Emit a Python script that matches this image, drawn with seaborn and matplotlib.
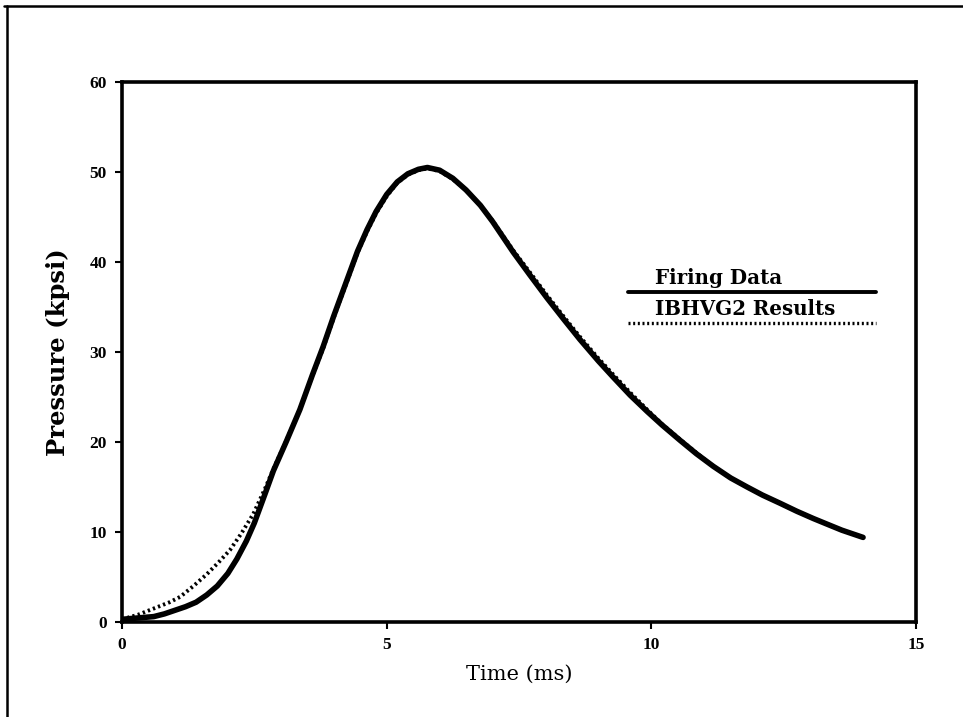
import numpy as np
import pandas as pd
import matplotlib
matplotlib.use("Agg")
import matplotlib.pyplot as plt
import seaborn as sns
from matplotlib.lines import Line2D

# ---- data ----
firing_t = [0.0, 0.2, 0.4, 0.6, 0.8, 1.0, 1.2, 1.4, 1.6, 1.8, 2.0, 2.17, 2.35,
            2.5, 2.7, 2.86, 3.1, 3.36, 3.6, 3.8, 4.0, 4.25, 4.45, 4.63, 4.8,
            5.0, 5.2, 5.4, 5.6, 5.77, 6.0, 6.25, 6.5, 6.77, 7.0, 7.39, 7.7,
            8.03, 8.35, 8.65, 9.0, 9.28, 9.6, 9.92, 10.2, 10.54, 10.85, 11.17,
            11.5, 11.81, 12.1, 12.43, 12.75, 13.06, 13.35, 13.6, 13.8, 14.0]
firing_p = [0.3, 0.4, 0.5, 0.6, 0.9, 1.3, 1.7, 2.2, 3.0, 4.0, 5.4, 7.0, 9.0,
            11.0, 14.2, 16.8, 20.0, 23.6, 27.5, 30.6, 34.0, 38.0, 41.2, 43.6,
            45.6, 47.5, 48.9, 49.8, 50.3, 50.5, 50.2, 49.3, 48.0, 46.3, 44.5,
            41.1, 38.6, 36.0, 33.6, 31.4, 29.0, 27.2, 25.2, 23.4, 21.9, 20.2,
            18.7, 17.3, 16.0, 15.0, 14.1, 13.2, 12.3, 11.5, 10.8, 10.2, 9.8, 9.4]

ibhvg_t = [0.0, 0.3, 0.6, 0.9, 1.1, 1.35, 1.6, 1.82, 2.04, 2.25, 2.48, 2.7,
           2.86, 3.1, 3.36, 3.6, 3.8, 4.0, 4.25, 4.45, 4.63, 4.8, 5.0, 5.2,
           5.4, 5.6, 5.77, 6.0, 6.25, 6.5, 6.77, 7.0, 7.39, 7.7, 8.03, 8.35,
           8.65, 9.0, 9.28, 9.6, 9.92, 10.2, 10.54, 10.85, 11.17, 11.5, 11.81,
           12.1, 12.43, 12.75, 13.06, 13.35, 13.6, 13.8, 14.0]
ibhvg_p = [0.3, 0.8, 1.5, 2.2, 2.8, 4.0, 5.3, 6.6, 8.0, 9.8, 12.0, 14.8,
           17.0, 20.1, 23.6, 27.4, 30.4, 33.8, 37.8, 41.0, 43.4, 45.4, 47.3,
           48.8, 49.7, 50.2, 50.4, 50.1, 49.2, 48.0, 46.3, 44.6, 41.3, 38.9,
           36.3, 33.9, 31.7, 29.3, 27.5, 25.5, 23.6, 22.0, 20.3, 18.8, 17.3,
           16.0, 15.0, 14.1, 13.2, 12.3, 11.5, 10.8, 10.2, 9.8, 9.4]

x_ticks = [0, 5, 10, 15]
y_ticks = [0, 10, 20, 30, 40, 50, 60]

df = pd.concat([
    pd.DataFrame({"Time": firing_t, "Pressure": firing_p, "Series": "Firing Data"}),
    pd.DataFrame({"Time": ibhvg_t, "Pressure": ibhvg_p, "Series": "IBHVG2 Results"}),
])

sns.set_theme(style="ticks")
plt.rcParams["font.family"] = ["Liberation Serif", "DejaVu Serif"]
plt.rcParams["text.color"] = "black"
plt.rcParams["axes.labelcolor"] = "black"

fig = plt.figure(figsize=(9.63, 7.17), dpi=100)
ax = fig.add_axes([122 / 963, 1 - 622 / 717, (916 - 122) / 963, (622 - 82) / 717])

sns.lineplot(data=df[df.Series == "Firing Data"], x="Time", y="Pressure",
             color="black", lw=4.0, ax=ax, legend=False, sort=True)
sns.lineplot(data=df[df.Series == "IBHVG2 Results"], x="Time", y="Pressure",
             color="black", lw=2.8, linestyle=(0, (0.6, 0.8)), ax=ax,
             legend=False, sort=True)

ax.set_xlim(0, 15)
ax.set_ylim(0, 60)
ax.set_xticks(x_ticks)
ax.set_yticks(y_ticks)
ax.set_xticklabels([str(v) for v in x_ticks], fontsize=12.5, fontweight="bold")
ax.set_yticklabels([str(v) for v in y_ticks], fontsize=12.5, fontweight="bold")
ax.tick_params(direction="out", length=5, width=1.5, colors="black", pad=6)
for s in ax.spines.values():
    s.set_visible(True)
    s.set_linewidth(2.6)
    s.set_color("black")

ax.set_xlabel("Time (ms)", fontsize=15, labelpad=8, family="DejaVu Serif",
              color="black")
ax.set_ylabel("Pressure (kpsi)", fontsize=17.5, labelpad=14, family="DejaVu Serif",
              fontweight="bold", color="black")

# legend drawn as in the original: label above a line sample
ax.add_line(Line2D([0.637, 0.950], [0.611, 0.611], transform=ax.transAxes,
                   color="black", lw=2.8))
ax.add_line(Line2D([0.637, 0.950], [0.554, 0.554], transform=ax.transAxes,
                   color="black", lw=2.4, linestyle=(0, (0.6, 0.8))))
ax.text(0.671, 0.618, "Firing Data", transform=ax.transAxes, fontsize=14.3,
        fontweight="bold", family="DejaVu Serif", ha="left", va="bottom",
        color="black")
ax.text(0.671, 0.561, "IBHVG2 Results", transform=ax.transAxes, fontsize=14.3,
        fontweight="bold", family="DejaVu Serif", ha="left", va="bottom",
        color="black")

# outer frame of the scanned figure (top and left edges)
fig.add_artist(Line2D([4 / 963, 1.0], [1 - 6 / 717, 1 - 6 / 717],
                      transform=fig.transFigure, color="black", lw=1.8))
fig.add_artist(Line2D([7 / 963, 7 / 963], [0.0, 1 - 6 / 717],
                      transform=fig.transFigure, color="black", lw=1.8))

fig.savefig("out.png", dpi=100, facecolor="white")
